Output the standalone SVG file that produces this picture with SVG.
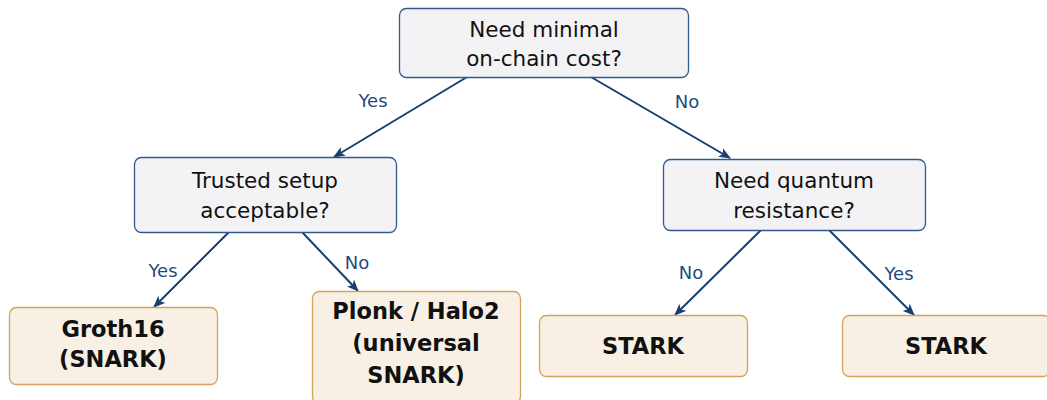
<svg xmlns="http://www.w3.org/2000/svg" width="1047" height="400" viewBox="0 0 1047 400">
<style>
.q{fill:#f3f3f6;stroke:#2f5a8c;stroke-width:1.3}
.l{fill:#f8f0e4;stroke:#d3a35c;stroke-width:1.3}
.qt{font-family:"DejaVu Sans",sans-serif;font-size:21.5px;fill:#111;text-anchor:middle}
.lt{font-family:"DejaVu Sans",sans-serif;font-size:22.5px;font-weight:bold;fill:#111;text-anchor:middle}
.el{font-family:"DejaVu Sans",sans-serif;font-size:18px;fill:#1f4b7e;text-anchor:middle}
.e{stroke:#163f72;stroke-width:2;fill:none;marker-end:url(#a)}
</style>
<defs>
<marker id="a" viewBox="0 0 12 10" refX="11" refY="5" markerWidth="12" markerHeight="10" markerUnits="userSpaceOnUse" orient="auto">
<path d="M0,0 L12,5 L0,10 L3,5 Z" fill="#163f72"/>
</marker>
</defs>
<g id="connectors">
<line class="e" x1="467" y1="77" x2="334" y2="157"/>
<line class="e" x1="591" y1="77" x2="730" y2="158"/>
<line class="e" x1="229" y1="232" x2="154" y2="307"/>
<line class="e" x1="302" y1="232" x2="358" y2="291"/>
<line class="e" x1="761" y1="230" x2="675" y2="315"/>
<line class="e" x1="829" y1="230" x2="914" y2="315"/>
<text class="el" x="373" y="107">Yes</text>
<text class="el" x="687" y="108">No</text>
<text class="el" x="163" y="277">Yes</text>
<text class="el" x="357" y="269">No</text>
<text class="el" x="691" y="279">No</text>
<text class="el" x="899" y="280">Yes</text>
</g>
<g id="n1">
<rect class="q" x="399.5" y="8.5" width="289" height="69" rx="7"/>
<text class="qt" x="544" y="37">Need minimal</text>
<text class="qt" x="544" y="66">on-chain cost?</text>
</g>
<g id="n2">
<rect class="q" x="134.5" y="157.5" width="262" height="75" rx="7"/>
<text class="qt" x="265" y="188">Trusted setup</text>
<text class="qt" x="265" y="218">acceptable?</text>
</g>
<g id="n3">
<rect class="q" x="663.5" y="159.5" width="262" height="71" rx="7"/>
<text class="qt" x="794" y="188">Need quantum</text>
<text class="qt" x="794" y="218">resistance?</text>
</g>
<g id="n4">
<rect class="l" x="9.5" y="307.5" width="208" height="77" rx="7"/>
<text class="lt" x="113" y="337">Groth16</text>
<text class="lt" x="113" y="367">(SNARK)</text>
</g>
<g id="n5">
<rect class="l" x="312.5" y="291.5" width="208" height="112" rx="7"/>
<text class="lt" x="416" y="319">Plonk / Halo2</text>
<text class="lt" x="416" y="351">(universal</text>
<text class="lt" x="416" y="383">SNARK)</text>
</g>
<g id="n6">
<rect class="l" x="539.5" y="315.5" width="208" height="61" rx="7"/>
<text class="lt" x="643" y="354">STARK</text>
</g>
<g id="n7">
<rect class="l" x="842.5" y="315.5" width="208" height="61" rx="7"/>
<text class="lt" x="946" y="354">STARK</text>
</g>
</svg>
